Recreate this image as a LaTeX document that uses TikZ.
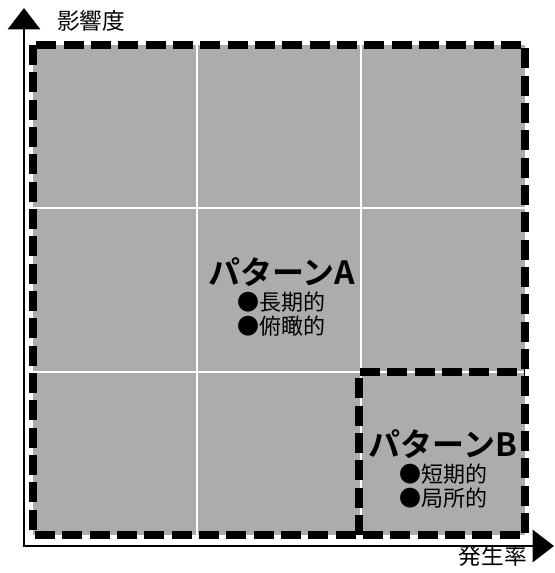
\documentclass[tikz,border=0pt]{standalone}
\usepackage{fontspec}
\usetikzlibrary{arrows.meta}
\newfontfamily\jp{Noto Sans CJK JP}
\newfontfamily\jpb{Noto Sans CJK JP Bold}
\definecolor{fillgray}{HTML}{ACACAC}
\tikzset{
  dashbox/.style={draw=black, line width=6pt, dash pattern=on 15pt off 5.5pt},
  axisline/.style={line width=2.2pt, -{Triangle[length=16pt,width=24pt]}},
  gridline/.style={draw=white, line width=1pt},
  title/.style={font=\jpb\fontsize{24}{26}\selectfont, inner sep=0pt},
  bullets/.style={font=\jp\fontsize{16.5}{17.5}\selectfont, align=left, inner sep=0pt},
  axlabel/.style={font=\jp\fontsize{17}{19}\selectfont, inner sep=0pt}
}
\begin{document}
\begin{tikzpicture}[x=0.75pt,y=-0.75pt]
\useasboundingbox (0,0) rectangle (555,573);
\fill[fillgray] (33,45) rectangle (525,535);
\draw[gridline] (197,45) -- (197,535);
\draw[gridline] (361,45) -- (361,535);
\draw[gridline] (33,208) -- (525,208);
\draw[gridline] (33,372) -- (525,372);
\draw[dashbox] (33,45) rectangle (525,535);
\draw[dashbox] (359,535) -- (359,372) -- (525,372);
\coordinate (origin) at (24,546);
\coordinate (ytip) at (24,8);
\coordinate (xtip) at (554,546);
\draw[axisline] (origin) -- (ytip);
\draw[axisline] ([xshift=-1pt]origin) -- (xtip);
\node[axlabel, anchor=west] (ylab) at (57,21) {影響度};
\node[axlabel, anchor=east] (xlab) at (527,556) {発生率};
\node[title] (pa) at (282,272) {パターンA};
\node[bullets, anchor=west] (pab) at (237,314) {●長期的\\●俯瞰的};
\node[title] (pb) at (443,444) {パターンB};
\node[bullets, anchor=west] (pbb) at (399,486) {●短期的\\●局所的};
\end{tikzpicture}
\end{document}
